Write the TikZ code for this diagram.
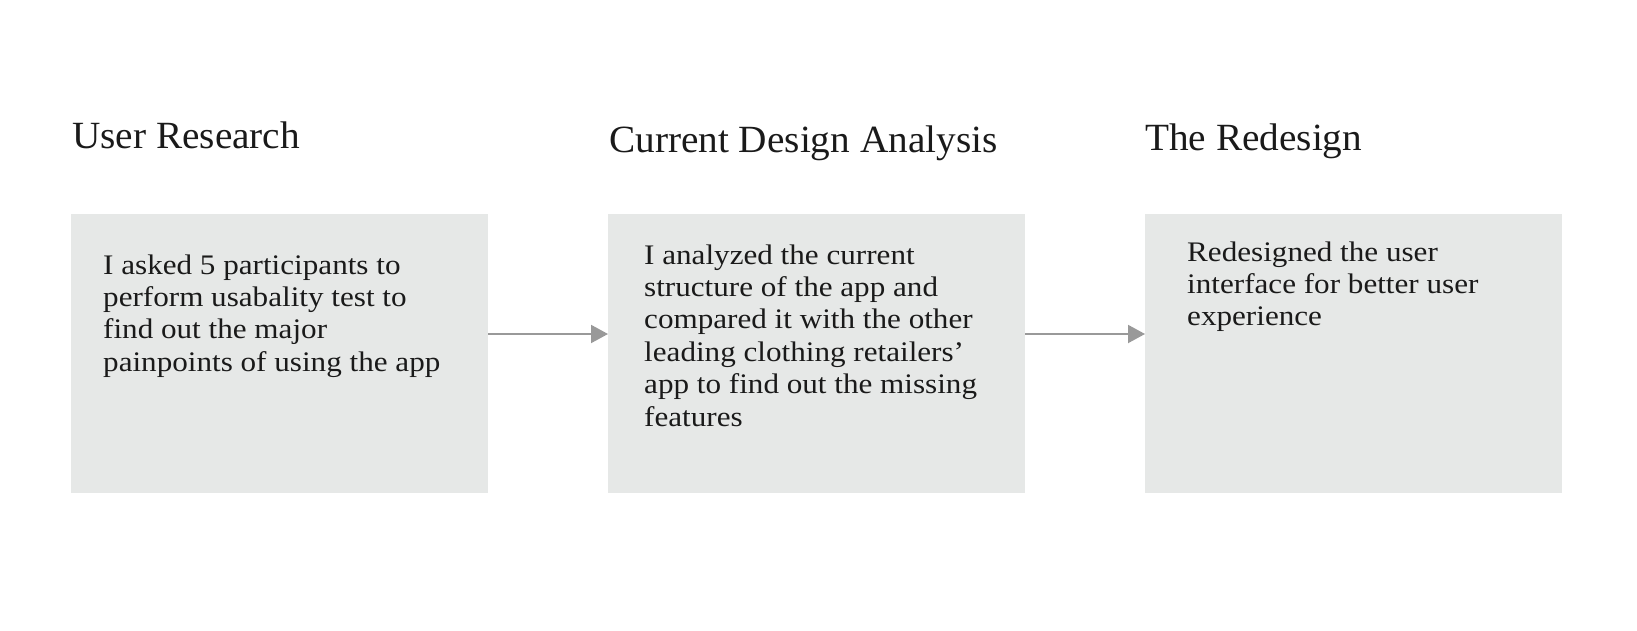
\documentclass[tikz,border=0pt]{standalone}
\usepackage{fontspec}
\setmainfont{Liberation Serif}
\newfontfamily\bodyfont[FakeStretch=1.1,Ligatures=TeX]{Liberation Serif}
\newfontfamily\headfont[FakeStretch=1.02,Ligatures=TeX]{Liberation Serif}
\usetikzlibrary{arrows.meta}
\definecolor{boxgray}{HTML}{E6E8E7}
\definecolor{ink}{HTML}{1A1A1A}
\definecolor{arrowgray}{HTML}{999999}
\newcommand{\bodytext}[1]{\parbox[t]{400pt}{\bodyfont\fontsize{28.3}{32.4}\selectfont\raggedright #1}}
\begin{document}
\begin{tikzpicture}[x=1pt,y=-1pt,
  panel/.style={draw=none,fill=boxgray,minimum width=417pt,minimum height=279pt,anchor=north west,inner sep=0pt},
  heading/.style={anchor=base west,inner sep=0pt,text=ink,font=\headfont\fontsize{38.5}{44}\selectfont},
  body/.style={anchor=base west,inner sep=0pt,text=ink},
  arr/.style={draw=arrowgray,line width=2pt,-{Triangle[length=17pt,width=18pt]}}]
\useasboundingbox (0,0) rectangle (1637,631);
\node[panel] (b1) at (71,214) {};
\node[panel] (b2) at (608,214) {};
\node[panel] (b3) at (1145,214) {};
\node[heading] (h1) at (72,149) {User Research};
\node[heading] (h2) at (609,153) {Current Design Analysis};
\node[heading] (h3) at (1145,151) {The Redesign};
\node[body] (t1) at (103,274) {\bodytext{I asked 5 participants to\\ perform usabality test to\\ find out the major\\ painpoints of using the app}};
\node[body] (t2) at (644,264) {\bodytext{I analyzed the current\\ structure of the app and\\ compared it with the other\\ leading clothing retailers’\\ app to find out the missing\\ features}};
\node[body] (t3) at (1187,261) {\bodytext{Redesigned the user\\ interface for better user\\ experience}};
\draw[arr] ([yshift=-120pt]b1.north east) -- ([yshift=-120pt]b2.north west);
\draw[arr] ([yshift=-120pt]b2.north east) -- ([yshift=-120pt]b3.north west);
\end{tikzpicture}
\end{document}
